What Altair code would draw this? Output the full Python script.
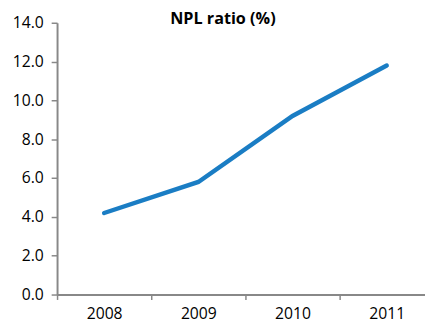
import altair as alt
import pandas as pd

years = [2008, 2009, 2010, 2011]
npl = [4.2, 5.8, 9.2, 11.8]
title_text = "NPL ratio (%)"

df = pd.DataFrame({"year": years, "npl": npl})
FONT = "Open Sans"
STEP = 96.0
W = 375

line = alt.Chart(df).mark_line(color="#1a7dc4", strokeWidth=4.5, strokeCap="round").encode(
    x=alt.X("year:Q", title=None,
            scale=alt.Scale(domain=[2007.5, 2007.5 + W / STEP], nice=False, zero=False),
            axis=alt.Axis(values=[2007.5, 2008.5, 2009.5, 2010.5],
                          labelExpr="format(datum.value + 0.5, 'd')",
                          labelOffset=STEP / 2, labelAngle=0, tickSize=5, labelPadding=6,
                          labelFlush=False, labelOverlap=False,
                          domainColor="#888888", tickColor="#888888", domainWidth=2, tickWidth=1.5,
                          labelFont=FONT, labelFontSize=16, labelColor="#000000", grid=False)),
    y=alt.Y("npl:Q", title=None,
            scale=alt.Scale(domain=[0, 14], nice=False),
            axis=alt.Axis(values=[0, 2, 4, 6, 8, 10, 12, 14], format=".1f", tickSize=6,
                          labelPadding=8, domainColor="#888888", tickColor="#888888",
                          domainWidth=2, tickWidth=1.5, labelFont=FONT, labelFontSize=16,
                          labelColor="#000000", grid=False)),
)

title = alt.Chart(pd.DataFrame({"t": [title_text]})).mark_text(
    font=FONT, fontSize=16.5, fontWeight="bold", color="#000000", align="center", baseline="top"
).encode(text="t:N", x=alt.value(169), y=alt.value(-12))

chart = alt.layer(line, title).properties(
    width=W, height=277, padding={"left": 50, "top": 12, "right": 0, "bottom": 28},
    autosize=alt.AutoSizeParams(type="none"),
).configure_view(stroke=None)

chart.save("out.html", embed_options={"renderer": "svg", "actions": False})
